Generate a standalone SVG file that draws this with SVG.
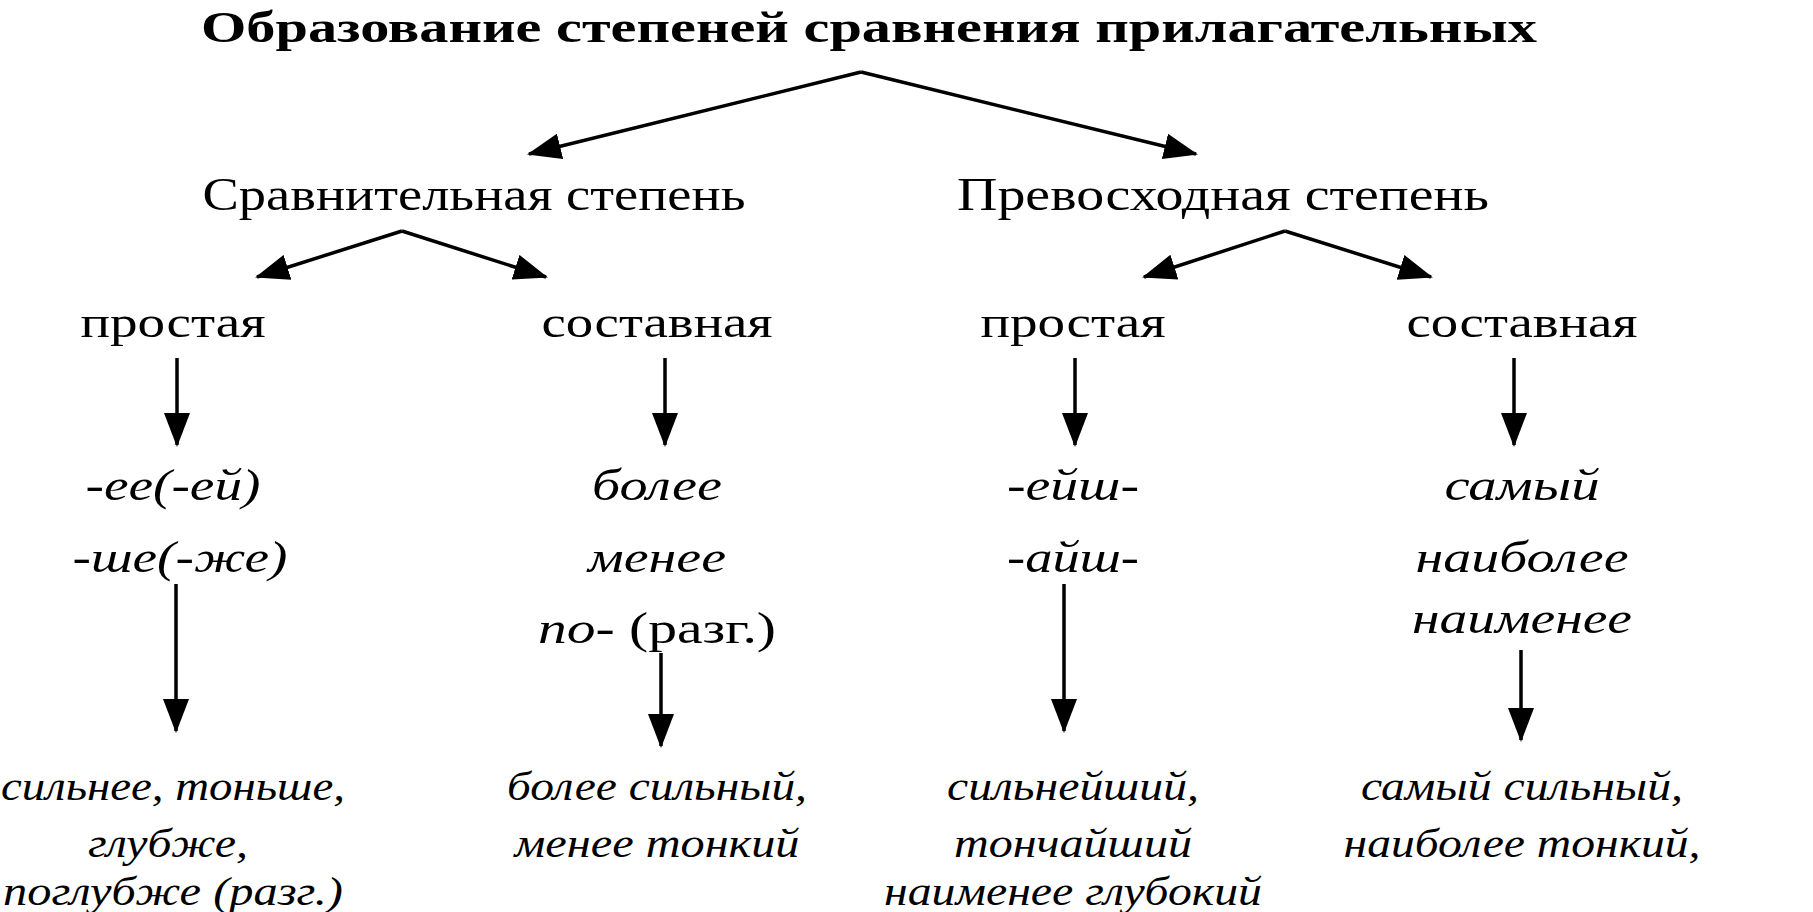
<svg xmlns="http://www.w3.org/2000/svg" width="1813" height="912" viewBox="0 0 1813 912" font-family="Liberation Serif, Tinos, Times New Roman, serif">
<style>
text{font-family:'Liberation Serif','Times New Roman',Tinos,serif;fill:#000;text-anchor:middle}
.t{font-weight:bold;font-size:44px}
.h{font-size:47px}
.s{font-size:45px}
.i{font-style:italic;font-size:45px}
.b{font-style:italic;font-size:39px}
.c line{stroke:#000;stroke-width:3.5;marker-end:url(#a)}
</style>
<defs>
<marker id="a" markerUnits="userSpaceOnUse" markerWidth="34" markerHeight="26" refX="32" refY="13" orient="auto">
<path d="M0,0 L34,13 L0,26 Z" fill="#000"/>
</marker>
</defs>
<rect width="1813" height="912" fill="#fff"/>
<g id="title"><text class="t" x="869" y="42" textLength="1336" lengthAdjust="spacingAndGlyphs">Образование степеней сравнения прилагательных</text></g>
<g id="comp"><text class="h" x="474" y="210" textLength="543" lengthAdjust="spacingAndGlyphs">Сравнительная степень</text></g>
<g id="super"><text class="h" x="1223" y="210" textLength="532" lengthAdjust="spacingAndGlyphs">Превосходная степень</text></g>
<g id="comp-simple"><text class="s" x="173" y="337" textLength="185" lengthAdjust="spacingAndGlyphs">простая</text></g>
<g id="comp-compound"><text class="s" x="657" y="337" textLength="231" lengthAdjust="spacingAndGlyphs">составная</text></g>
<g id="super-simple"><text class="s" x="1073" y="337" textLength="185" lengthAdjust="spacingAndGlyphs">простая</text></g>
<g id="super-compound"><text class="s" x="1522" y="337" textLength="231" lengthAdjust="spacingAndGlyphs">составная</text></g>
<g id="comp-simple-suf"><text class="i" x="173" y="500" textLength="175" lengthAdjust="spacingAndGlyphs">-ее(-ей)</text><text class="i" x="180" y="572" textLength="215" lengthAdjust="spacingAndGlyphs">-ше(-же)</text></g>
<g id="comp-compound-words"><text class="i" x="657" y="500" textLength="130" lengthAdjust="spacingAndGlyphs">более</text><text class="i" x="657" y="572" textLength="138" lengthAdjust="spacingAndGlyphs">менее</text><text class="s" x="657" y="643" textLength="238" lengthAdjust="spacingAndGlyphs"><tspan font-style="italic">по-</tspan> (разг.)</text></g>
<g id="super-simple-suf"><text class="i" x="1073" y="500" textLength="132" lengthAdjust="spacingAndGlyphs">-ейш-</text><text class="i" x="1073" y="572" textLength="132" lengthAdjust="spacingAndGlyphs">-айш-</text></g>
<g id="super-compound-words"><text class="i" x="1522" y="500" textLength="155" lengthAdjust="spacingAndGlyphs">самый</text><text class="i" x="1522" y="572" textLength="213" lengthAdjust="spacingAndGlyphs">наиболее</text><text class="i" x="1522" y="633" textLength="220" lengthAdjust="spacingAndGlyphs">наименее</text></g>
<g id="ex1"><text class="b" x="173" y="800" textLength="344" lengthAdjust="spacingAndGlyphs">сильнее, тоньше,</text><text class="b" x="168" y="857" textLength="160" lengthAdjust="spacingAndGlyphs">глубже,</text><text class="b" x="173" y="905" textLength="340" lengthAdjust="spacingAndGlyphs">поглубже (разг.)</text></g>
<g id="ex2"><text class="b" x="657" y="800" textLength="300" lengthAdjust="spacingAndGlyphs">более сильный,</text><text class="b" x="657" y="857" textLength="285" lengthAdjust="spacingAndGlyphs">менее тонкий</text></g>
<g id="ex3"><text class="b" x="1073" y="800" textLength="252" lengthAdjust="spacingAndGlyphs">сильнейший,</text><text class="b" x="1073" y="857" textLength="238" lengthAdjust="spacingAndGlyphs">тончайший</text><text class="b" x="1073" y="905" textLength="378" lengthAdjust="spacingAndGlyphs">наименее глубокий</text></g>
<g id="ex4"><text class="b" x="1522" y="800" textLength="322" lengthAdjust="spacingAndGlyphs">самый сильный,</text><text class="b" x="1522" y="857" textLength="357" lengthAdjust="spacingAndGlyphs">наиболее тонкий,</text></g>
<g class="c" id="connectors">
<line x1="861" y1="72" x2="529" y2="154"/>
<line x1="861" y1="72" x2="1196" y2="154"/>
<line x1="402" y1="231" x2="257" y2="277"/>
<line x1="402" y1="231" x2="546" y2="277"/>
<line x1="1285" y1="231" x2="1144" y2="277"/>
<line x1="1285" y1="231" x2="1431" y2="277"/>
<line x1="177" y1="358" x2="177" y2="445"/>
<line x1="665" y1="358" x2="665" y2="445"/>
<line x1="1075" y1="358" x2="1075" y2="445"/>
<line x1="1514" y1="358" x2="1514" y2="445"/>
<line x1="176" y1="584" x2="176" y2="731"/>
<line x1="661" y1="653" x2="661" y2="746"/>
<line x1="1064" y1="584" x2="1064" y2="731"/>
<line x1="1521" y1="650" x2="1521" y2="740"/>
</g>
</svg>
